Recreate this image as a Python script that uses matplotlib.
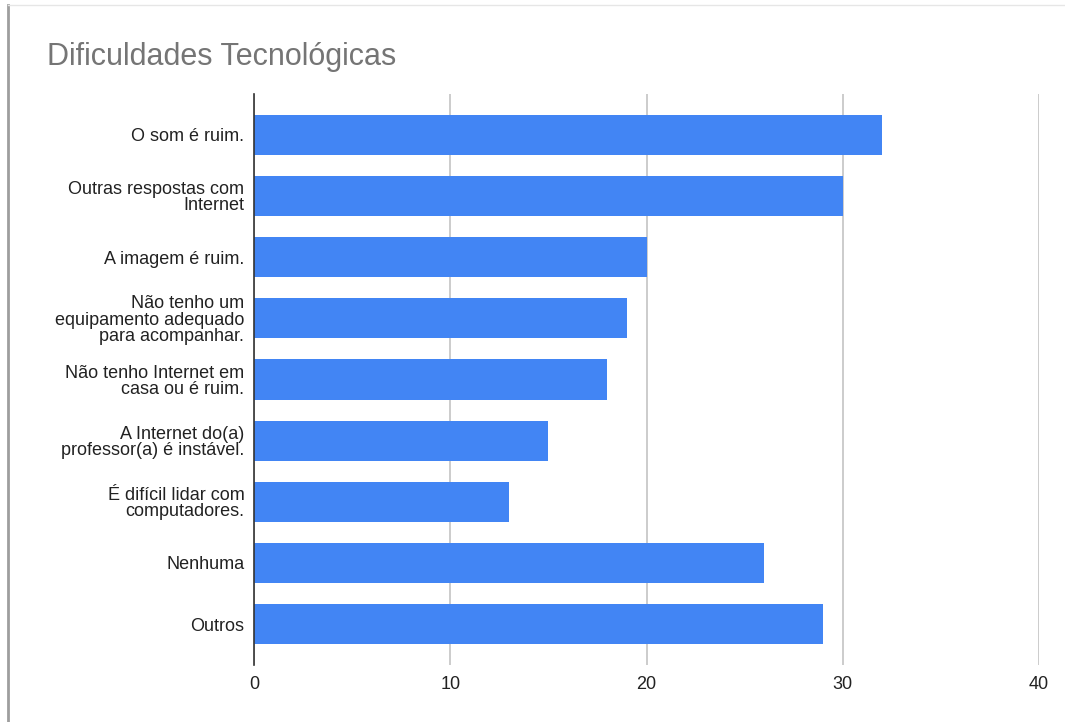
import matplotlib.pyplot as plt
from matplotlib.lines import Line2D

categories = [
    "O som é ruim.",
    "Outras respostas com\nInternet",
    "A imagem é ruim.",
    "Não tenho um\nequipamento adequado\npara acompanhar.",
    "Não tenho Internet em\ncasa ou é ruim.",
    "A Internet do(a)\nprofessor(a) é instável.",
    "É difícil lidar com\ncomputadores.",
    "Nenhuma",
    "Outros",
]
counts = [32, 30, 20, 19, 18, 15, 13, 26, 29]
x_ticks = [0, 10, 20, 30, 40]

plt.rcParams['font.family'] = ['Liberation Sans', 'DejaVu Sans']

fig = plt.figure(figsize=(10.65, 7.22), dpi=100)
ax = fig.add_axes([254 / 1065, 1 - 665 / 722, 785 / 1065, 571 / 722])

y_pos = list(range(len(categories)))
ax.barh(y_pos, counts, height=0.655, color='#4285F4', zorder=3)

ax.set_xlim(0, 40)
ax.set_ylim(len(categories) - 1 + 0.67, -0.67)
ax.set_xticks(x_ticks)
ax.set_xticklabels([str(t) for t in x_ticks])
ax.set_yticks(y_pos)
ax.set_yticklabels(categories, linespacing=0.95)
ax.tick_params(axis='both', length=0, labelsize=13, labelcolor='#222222')
ax.tick_params(axis='y', pad=7)
ax.tick_params(axis='x', pad=8)

ax.grid(axis='x', color='#cccccc', linewidth=1.4, zorder=0)
for s in ['top', 'right', 'bottom']:
    ax.spines[s].set_visible(False)
ax.spines['left'].set_color('#333333')
ax.spines['left'].set_linewidth(1.2)
ax.spines['left'].set_zorder(4)

fig.text(47 / 1065, 1 - 57 / 722, "Dificuldades Tecnológicas", fontsize=22,
         color='#757575', va='center', ha='left')

# page frame lines
fig.add_artist(Line2D([8 / 1065, 8 / 1065], [0, 1 - 5 / 722],
                      transform=fig.transFigure, color='#9e9e9e', linewidth=2))
fig.add_artist(Line2D([8 / 1065, 1], [1 - 5 / 722, 1 - 5 / 722],
                      transform=fig.transFigure, color='#e6e6e6', linewidth=1))

fig.savefig('out.png', dpi=100, facecolor='white')
